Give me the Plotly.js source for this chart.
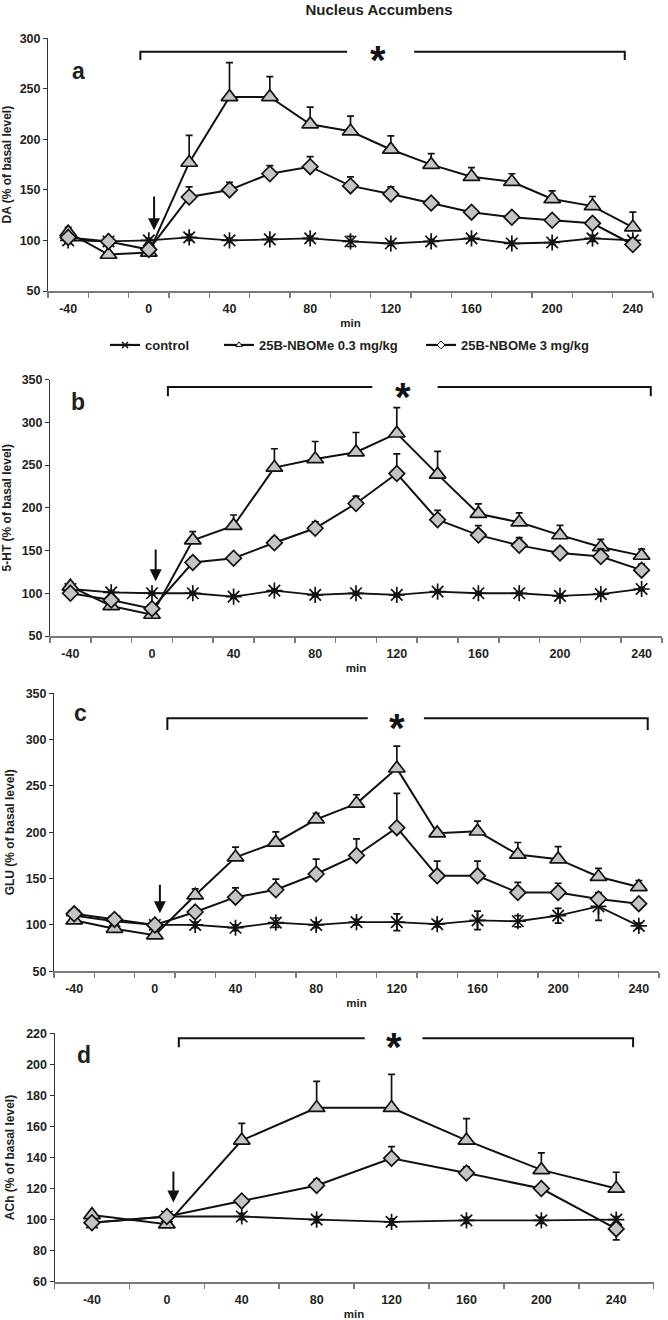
<!DOCTYPE html>
<html>
<head>
<meta charset="utf-8">
<script src="https://cdn.plot.ly/plotly-3.0.1.min.js"></script>
<style>html,body{margin:0;padding:0;background:#fff;}</style>
</head>
<body>
<div id="chart" style="width:668px;height:1320px;"></div>
<script>
// ---------------- data ----------------
const minutes = [-40, -20, 0, 20, 40, 60, 80, 100, 120, 140, 160, 180, 200, 220, 240];
const minutesAch = [-40, 0, 40, 80, 120, 160, 200, 240];
const seriesNames = ['control', '25B-NBOMe 0.3 mg/kg', '25B-NBOMe 3 mg/kg'];
const panelLetters = ['a', 'b', 'c', 'd'];
const yTitles = ['DA (% of basal level)', '5-HT (% of basal level)', 'GLU (% of basal level)', 'ACh (% of basal level)'];
const chartTitle = 'Nucleus Accumbens';
const xTitle = 'min';

// a: DA
const daControl    = [100, 99, 100, 103, 100, 101, 102, 99, 97, 99, 102, 97, 98, 102, 100];
const daControlErr = [3, 2, 2, 3, 2, 2, 2, 5, 2, 2, 2, 2, 2, 3, 2];
const daLow        = [108, 86, 88, 177, 242, 242, 215, 208, 190, 175, 163, 158, 141, 134, 113];
const daLowErr     = [5, 2, 2, 27, 34, 20, 17, 15, 13.5, 11, 9, 8, 8, 9.5, 15];
const daHigh       = [103, 99, 91, 143, 150, 166, 173, 154, 146, 137, 128, 123, 120, 117, 96];
const daHighErr    = [3, 3, 3, 10, 7.5, 8, 10, 9, 7, 4, 4.5, 3, 4, 5, 3];

// b: 5-HT
const htControl    = [105, 101, 100, 100, 96, 103, 98, 100, 98, 102, 100, 100, 97, 99, 105];
const htControlErr = [3, 2, 2, 2, 2, 2, 2, 2, 2, 2, 2, 2, 2, 2, 2];
const htLow        = [108, 85, 75, 162, 179, 247, 257, 265, 287, 239, 193, 183, 168, 154, 144];
const htLowErr     = [3, 3, 3, 10, 12.5, 22, 20.5, 23, 30, 27, 11.5, 11, 11.5, 9, 7.5];
const htHigh       = [100, 92, 82, 136, 141, 159, 176, 205, 240, 186, 168, 156, 147, 143, 127];
const htHighErr    = [3, 3, 3, 6, 3, 6, 7.5, 8.5, 23, 11, 11, 9, 6.5, 9, 7];

// c: GLU
const gluControl    = [110, 104, 100, 100, 97, 102.5, 100, 103, 103, 101, 105, 104, 110, 120, 99];
const gluControlErr = [3, 3, 3, 3, 3, 5, 3, 3, 9, 3, 10, 6, 8, 15, 3];
const gluLow        = [105, 96, 89, 132, 173, 189, 214, 231, 269, 199, 201, 176, 171, 152, 141];
const gluLowErr     = [3, 3, 3, 7, 11, 11.5, 6.5, 9.5, 24, 3, 11, 13, 13.5, 9, 7];
const gluHigh       = [112, 106, 100, 114, 130, 138, 155, 175, 205, 153, 153, 135, 135, 128, 123];
const gluHighErr    = [3, 3, 3, 3, 10, 11.5, 16, 18, 37, 16, 16, 11, 10, 5, 3];

// d: ACh
const achControl     = [98, 102, 102, 100, 98.5, 99.5, 99.5, 100];
const achControlErr  = [3, 2, 2, 2, 2, 2, 2, 2];
const achLow         = [103, 97, 151, 172, 172, 151, 132, 120];
const achLowErr      = [2, 2, 11, 17, 21.5, 14, 11, 10.5];
const achHigh        = [98, 102, 112, 122, 139.5, 130, 120, 94];
const achHighErr     = [2, 2, 2, 4, 7.5, 4, 2, 2];
const achHighErrDown = [0, 0, 0, 0, 0, 0, 0, 7];

// ---------------- styling / layout ----------------
const W = 668, H = 1320;
const FONT = 'Arial, "Liberation Sans", Helvetica, sans-serif';
const TXT = '#231f20';
const FILL = '#c4c4c4';

const panels = [
  {x: minutes, ctrl: daControl, ctrlErr: daControlErr, low: daLow, lowErr: daLowErr, high: daHigh, highErr: daHighErr, highErrDown: null,
   yr: [50, 300], dtick: 50, px: [48, 653], py: [38.3, 291],
   br: {x0: -4.2, x1: 236, g0: 98.3, g1: 131.6, y: 286.7, yt: 278.5, sx: 113.7, sy: 283.5},
   arrow: {x: 2.6, y0: 145, y1: 110}, letter: [78, 71]},
  {x: minutes, ctrl: htControl, ctrlErr: htControlErr, low: htLow, lowErr: htLowErr, high: htHigh, highErr: htHighErr, highErrDown: null,
   yr: [50, 350], dtick: 50, px: [50, 662], py: [379.5, 636],
   br: {x0: 7.8, x1: 244.5, g0: 108, g1: 140, y: 341.3, yt: 330.4, sx: 123, sy: 335.3},
   arrow: {x: 1.8, y0: 153, y1: 114}, letter: [78, 402]},
  {x: minutes, ctrl: gluControl, ctrlErr: gluControlErr, low: gluLow, lowErr: gluLowErr, high: gluHigh, highErr: gluHighErr, highErrDown: null,
   yr: [50, 350], dtick: 50, px: [54, 659], py: [693.3, 971.3],
   br: {x0: 6.2, x1: 244.4, g0: 105.6, g1: 133.4, y: 323, yt: 310.4, sx: 120, sy: 318},
   arrow: {x: 2.5, y0: 145, y1: 112.7}, letter: [80, 713]},
  {x: minutesAch, ctrl: achControl, ctrlErr: achControlErr, low: achLow, lowErr: achLowErr, high: achHigh, highErr: achHighErr, highErrDown: achHighErrDown,
   yr: [60, 220], dtick: 20, px: [54.5, 653.7], py: [1033.3, 1281.7],
   br: {x0: 6.4, x1: 249, g0: 105.7, g1: 136.5, y: 216.8, yt: 211, sx: 121.2, sy: 214.6},
   arrow: {x: 3.5, y0: 132, y1: 111}, letter: [84, 1055]}
];

const traces = [];
const layout = {
  width: W, height: H,
  margin: {l: 0, r: 0, t: 0, b: 0},
  paper_bgcolor: '#fff', plot_bgcolor: 'rgba(0,0,0,0)',
  font: {family: FONT, color: TXT, weight: 'bold'},
  showlegend: true,
  title: {text: chartTitle, x: 379 / W, xanchor: 'center', y: 1 - 10 / H, yanchor: 'middle',
          font: {family: FONT, size: 15, color: TXT, weight: 'bold'}},
  annotations: [], shapes: []
};

function errBar(plus, minus) {
  return {type: 'data', symmetric: false, array: plus, arrayminus: minus || plus.map(() => 0),
          color: '#111', thickness: 1.7, width: 3.5, visible: true};
}

panels.forEach((p, i) => {
  const s = i === 0 ? '' : String(i + 1);
  const xa = 'x' + s, ya = 'y' + s;
  const step = p.x[1] - p.x[0];
  const labelVals = p.x.filter(v => v % 40 === 0);
  const bounds = [p.x[0] - step / 2].concat(p.x.map(v => v + step / 2));

  traces.push({
    type: 'scatter', mode: 'lines+markers', x: p.x, y: p.ctrl, xaxis: xa, yaxis: ya, name: seriesNames[0],
    showlegend: false, cliponaxis: false,
    line: {color: '#111', width: 1.8},
    marker: {symbol: 'asterisk-open', size: 13.5, color: '#111', line: {color: '#111', width: 1.7}},
    error_y: errBar(p.ctrlErr, p.ctrlErr)
  });
  traces.push({
    type: 'scatter', mode: 'lines+markers', x: p.x, y: p.low, xaxis: xa, yaxis: ya, name: seriesNames[1],
    showlegend: false, cliponaxis: false,
    line: {color: '#111', width: 2},
    marker: {symbol: 'triangle-up', size: 14.5, color: FILL, line: {color: '#111', width: 1.7}},
    error_y: errBar(p.lowErr)
  });
  traces.push({
    type: 'scatter', mode: 'lines+markers', x: p.x, y: p.high, xaxis: xa, yaxis: ya, name: seriesNames[2],
    showlegend: false, cliponaxis: false,
    line: {color: '#111', width: 2},
    marker: {symbol: 'diamond', size: 12, color: FILL, line: {color: '#111', width: 1.7}},
    error_y: errBar(p.highErr, p.highErrDown)
  });

  layout['xaxis' + s] = {
    domain: [p.px[0] / W, p.px[1] / W], anchor: ya,
    range: [bounds[0], bounds[bounds.length - 1]],
    tickmode: 'array', tickvals: labelVals, ticktext: labelVals.map(String),
    ticks: 'outside', ticklen: 5, tickcolor: 'rgba(0,0,0,0)',
    minor: {tickmode: 'array', tickvals: bounds, ticks: 'outside', ticklen: 5, tickwidth: 1.5, tickcolor: '#7a7a7a'},
    showline: true, linecolor: '#7a7a7a', linewidth: 2, showgrid: false, zeroline: false,
    tickfont: {family: FONT, size: 12.5, color: TXT, weight: 'bold'},
    title: {text: xTitle, font: {family: FONT, size: 11.5, color: TXT, weight: 'bold'}, standoff: 4},
    fixedrange: true
  };
  layout['yaxis' + s] = {
    domain: [1 - p.py[1] / H, 1 - p.py[0] / H], anchor: xa,
    range: p.yr, tickmode: 'linear', tick0: p.yr[0], dtick: p.dtick,
    ticks: 'outside', ticklen: 4, tickwidth: 1, tickcolor: '#333',
    showline: true, linecolor: '#333', linewidth: 1, showgrid: false, zeroline: false,
    tickfont: {family: FONT, size: 12.5, color: TXT, weight: 'bold'},
    title: {text: yTitles[i], font: {family: FONT, size: 12, color: TXT, weight: 'bold'}, standoff: 8},
    fixedrange: true
  };

  // significance bracket
  const b = p.br;
  layout.shapes.push({type: 'path', xref: xa, yref: ya,
    path: `M ${b.x0},${b.yt} L ${b.x0},${b.y} L ${b.g0},${b.y}`, line: {color: '#111', width: 2}});
  layout.shapes.push({type: 'path', xref: xa, yref: ya,
    path: `M ${b.g1},${b.y} L ${b.x1},${b.y} L ${b.x1},${b.yt}`, line: {color: '#111', width: 2}});
  layout.annotations.push({xref: xa, yref: ya, x: b.sx, y: b.sy, text: '*', showarrow: false,
    xanchor: 'center', yanchor: 'middle', yshift: -5,
    font: {family: FONT, size: 40, color: '#111', weight: 'bold'}});

  // injection arrow
  layout.annotations.push({xref: xa, yref: ya, axref: xa, ayref: ya, x: p.arrow.x, y: p.arrow.y1,
    ax: p.arrow.x, ay: p.arrow.y0, text: '', showarrow: true, arrowhead: 2, arrowsize: 1.2,
    arrowwidth: 2, arrowcolor: '#111', standoff: 0});

  // panel letter
  layout.annotations.push({xref: 'paper', yref: 'paper', x: p.letter[0] / W, y: 1 - p.letter[1] / H,
    text: panelLetters[i], showarrow: false, xanchor: 'center', yanchor: 'middle',
    font: {family: FONT, size: 23, color: TXT, weight: 'bold'}});
});

// legend entries (one legend per series, positioned like the original)
const legendX = [105, 219, 421];
const legendMarkers = [
  {symbol: 'x-thin-open', size: 6, color: '#111', line: {color: '#111', width: 1.5}},
  {symbol: 'triangle-up', size: 6, color: '#fff', line: {color: '#111', width: 1}},
  {symbol: 'diamond', size: 6, color: '#fff', line: {color: '#111', width: 1}}
];
seriesNames.forEach((name, k) => {
  const lg = k === 0 ? 'legend' : 'legend' + (k + 1);
  traces.push({type: 'scatter', mode: 'lines+markers', x: [null], y: [null], xaxis: 'x', yaxis: 'y',
    name: name, legend: lg, showlegend: true, line: {color: '#111', width: 2.2}, marker: legendMarkers[k],
    hoverinfo: 'skip'});
  layout[lg] = {x: legendX[k] / W, xanchor: 'left', y: 1 - 345 / H, yanchor: 'middle',
    orientation: 'h', bgcolor: 'rgba(0,0,0,0)', borderwidth: 0,
    font: {family: FONT, size: 13, color: TXT, weight: 'bold'}};
});

Plotly.newPlot('chart', traces, layout, {staticPlot: true, displayModeBar: false});
</script>
</body>
</html>
